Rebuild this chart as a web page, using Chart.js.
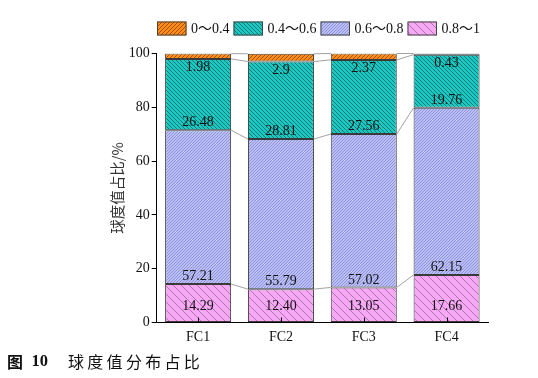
<!DOCTYPE html>
<html>
<head>
<meta charset="utf-8">
<script src="https://cdn.jsdelivr.net/npm/chart.js@4.4.0/dist/chart.umd.min.js"></script>
<style>
  body { margin: 0; background: #fff; }
  canvas { display: block; }
</style>
</head>
<body>
<canvas id="myChart" width="538" height="378"></canvas>
<script>
// categories and series (stack order bottom -> top)
const categories = ['FC1', 'FC2', 'FC3', 'FC4'];
const seriesLabels = ['0.8～1', '0.6～0.8', '0.4～0.6', '0～0.4'];
const v08to1 = [14.29, 12.40, 13.05, 17.66];
const v06to08 = [57.21, 55.79, 57.02, 62.15];
const v04to06 = [26.48, 28.81, 27.56, 19.76];
const v0to04 = [1.98, 2.9, 2.37, 0.43];
const yTicks = [0, 20, 40, 60, 80, 100];

const serif = "'Liberation Serif', 'Noto Sans CJK SC', serif";
const cjk = "'Noto Sans CJK SC', sans-serif";

// hatch fill
function hatch(bg, fg, size, dir, lw) {
    const c = document.createElement('canvas');
    c.width = c.height = size;
    const g = c.getContext('2d');
    g.fillStyle = bg;
    g.fillRect(0, 0, size, size);
    g.strokeStyle = fg;
    g.lineWidth = lw;
    g.beginPath();
    if (dir === '/') {
        g.moveTo(0, size); g.lineTo(size, 0);
        g.moveTo(-2, 2); g.lineTo(2, -2);
        g.moveTo(size - 2, size + 2); g.lineTo(size + 2, size - 2);
    } else {
        g.moveTo(0, 0); g.lineTo(size, size);
        g.moveTo(size - 2, -2); g.lineTo(size + 2, 2);
        g.moveTo(-2, size - 2); g.lineTo(2, size + 2);
    }
    g.stroke();
    return g.createPattern(c, 'repeat');
}

const fills = [
    hatch('#F6A8F4', '#9a689a', 8, '\\', 0.8),
    hatch('#BBBFF3', '#8389d6', 3, '/', 0.8),
    hatch('#1CC8C2', '#0e6664', 4, '\\', 0.8),
    hatch('#FF8C14', '#8a4200', 4, '/', 0.8)
];

const seriesValues = [v08to1, v06to08, v04to06, v0to04];

const datasets = seriesValues.map((vals, i) => ({
    label: seriesLabels[i],
    data: vals,
    backgroundColor: fills[i],
    borderColor: '#3a3a3a',
    borderWidth: 1,
    borderSkipped: false,
    categoryPercentage: 1,
    barPercentage: 0.797
}));

const extras = {
    id: 'extras',
    afterDatasetsDraw(chart) {
        const ctx = chart.ctx;
        ctx.save();
        // connecting lines between segment tops
        ctx.strokeStyle = '#8a8a8a';
        ctx.lineWidth = 0.8;
        chart.data.datasets.forEach((ds, di) => {
            const meta = chart.getDatasetMeta(di);
            for (let i = 0; i < meta.data.length - 1; i++) {
                const a = meta.data[i], b = meta.data[i + 1];
                ctx.beginPath();
                ctx.moveTo(a.x + a.width / 2, a.y);
                ctx.lineTo(b.x - b.width / 2, b.y);
                ctx.stroke();
            }
        });
        // value labels
        ctx.fillStyle = '#111';
        ctx.font = '14px ' + serif;
        ctx.textAlign = 'center';
        ctx.textBaseline = 'middle';
        chart.data.datasets.forEach((ds, di) => {
            const meta = chart.getDatasetMeta(di);
            meta.data.forEach((el, i) => {
                const v = ds.data[i];
                const txt = di === 0 ? v.toFixed(2) : String(v);
                let y;
                if (di === 0) y = el.base - 16;
                else if (di === 3) y = el.base + 8.5;
                else y = el.base - 7.5;
                ctx.fillText(txt, el.x, y);
            });
        });
        ctx.restore();
    },
    afterDraw(chart) {
        const ctx = chart.ctx;
        const xs = chart.scales.x;
        const area = chart.chartArea;
        ctx.save();
        // inward x ticks
        ctx.strokeStyle = '#000';
        ctx.lineWidth = 1;
        xs.ticks.forEach((t, i) => {
            const x = Math.round(xs.getPixelForTick(i)) + 0.5;
            ctx.beginPath();
            ctx.moveTo(x, area.bottom);
            ctx.lineTo(x, area.bottom - 5);
            ctx.stroke();
        });
        // legend (top series first)
        ctx.font = '14px ' + serif;
        ctx.textBaseline = 'middle';
        ctx.textAlign = 'left';
        let lx = 157;
        const ly = 21.5;
        for (let di = chart.data.datasets.length - 1; di >= 0; di--) {
            const ds = chart.data.datasets[di];
            ctx.fillStyle = ds.backgroundColor;
            ctx.fillRect(lx, ly, 29.5, 14);
            ctx.strokeStyle = '#444';
            ctx.lineWidth = 1;
            ctx.strokeRect(lx + 0.5, ly + 0.5, 28.5, 13);
            ctx.fillStyle = '#111';
            ctx.fillText(ds.label, lx + 34, ly + 7.5);
            lx += 34 + ctx.measureText(ds.label).width + 4;
        }
        // caption
        ctx.fillStyle = '#111';
        ctx.font = 'bold 16px ' + cjk;
        ctx.fillText('图', 7, 362);
        ctx.font = 'bold 16.5px ' + serif;
        ctx.fillText('10', 31.5, 362);
        ctx.font = '16px ' + cjk;
        const cap = '球度值分布占比';
        for (let i = 0; i < cap.length; i++) {
            ctx.fillText(cap[i], 68 + i * 19.3, 362);
        }
        ctx.restore();
    }
};

new Chart(document.getElementById('myChart'), {
    type: 'bar',
    data: { labels: categories, datasets: datasets },
    options: {
        responsive: false,
        animation: false,
        layout: { padding: { left: 0, right: 50, top: 53.5, bottom: 0 } },
        plugins: {
            legend: { display: false },
            tooltip: { enabled: false }
        },
        scales: {
            x: {
                stacked: true,
                grid: { display: true, drawOnChartArea: false, drawTicks: false },
                border: { display: true, color: '#000', width: 1 },
                ticks: { color: '#111', font: { family: serif, size: 14 }, padding: 6 },
                afterFit(scale) { scale.height = 378 - 322.5; }
            },
            y: {
                stacked: true,
                min: 0,
                max: 100,
                afterBuildTicks(scale) { scale.ticks = yTicks.map(v => ({ value: v })); },
                grid: { display: true, drawOnChartArea: false, drawTicks: true, tickLength: 5, color: '#000' },
                border: { display: true, color: '#000', width: 1 },
                ticks: { color: '#111', font: { family: serif, size: 14 }, padding: 2 },
                title: {
                    display: true,
                    text: '球度值占比/%',
                    color: '#333',
                    font: { family: cjk, size: 14.5 },
                    padding: { top: 109, bottom: 0 }
                },
                afterFit(scale) { scale.width = 156.7; }
            }
        }
    },
    plugins: [extras]
});
</script>
</body>
</html>
